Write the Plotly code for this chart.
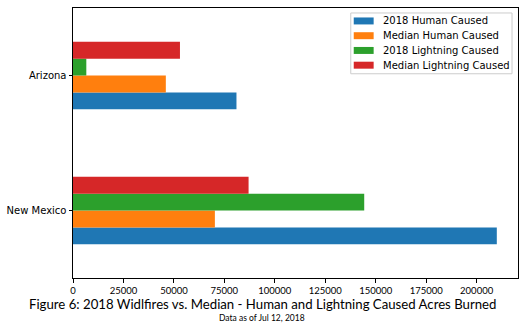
import plotly.graph_objects as go

states = ["New Mexico", "Arizona"]
series_names = ["2018 Human Caused", "Median Human Caused", "2018 Lightning Caused", "Median Lightning Caused"]
human_2018 = [210000, 81000]
median_human = [70300, 46000]
lightning_2018 = [144300, 6600]
median_lightning = [87000, 53000]
colors = ["#1f77b4", "#ff7f0e", "#2ca02c", "#d62728"]

fig = go.Figure()
for name, vals, c in zip(series_names, [human_2018, median_human, lightning_2018, median_lightning], colors):
    fig.add_trace(go.Bar(y=states, x=vals, name=name, orientation="h", marker=dict(color=c, line=dict(width=0))))

W, H = 526, 324
ML, MR, MT, MB = 72, 7, 7, 46
pw, ph = W - ML - MR, H - MT - MB

def px(x):
    return (x - ML) / pw

def py(y):
    return 1 - (y - MT) / ph

fig.update_layout(
    width=W, height=H,
    margin=dict(l=ML, r=MR, t=MT, b=MB),
    paper_bgcolor="white", plot_bgcolor="white",
    barmode="group", bargap=0.5, bargroupgap=0,
    font=dict(family="DejaVu Sans", size=10, color="black"),
    showlegend=False,
    xaxis=dict(range=[0, 220500], dtick=25000, tick0=0, tickformat="d",
               showline=True, linecolor="black", linewidth=1, mirror=True,
               ticks="outside", ticklen=3.5, tickcolor="black", showgrid=False, zeroline=False,
               tickfont=dict(family="Lato", size=9.5), ticklabelstandoff=0),
    yaxis=dict(type="category", range=[-0.5, 1.5],
               showline=True, linecolor="black", linewidth=1, mirror=True,
               ticks="outside", ticklen=3.5, tickcolor="black", showgrid=False),
)

# custom legend (matplotlib style)
fig.add_shape(type="rect", xref="paper", yref="paper",
              x0=px(351), x1=px(513), y0=py(73), y1=py(12),
              line=dict(color="#cccccc", width=1), fillcolor="rgba(255,255,255,0.8)", layer="above")
for i, (name, c) in enumerate(zip(series_names, colors)):
    yc = 20 + i * 14.8
    fig.add_shape(type="rect", xref="paper", yref="paper",
                  x0=px(354), x1=px(374), y0=py(yc + 3.5), y1=py(yc - 3.5),
                  line=dict(width=0), fillcolor=c, layer="above")
    fig.add_annotation(text=name, xref="paper", yref="paper", x=px(382), y=py(yc),
                       xanchor="left", yanchor="middle", showarrow=False, borderpad=0,
                       font=dict(family="DejaVu Sans", size=10, color="black"))

fig.add_annotation(text="Figure 6: 2018 Widlfires vs. Median - Human and Lightning Caused Acres Burned",
                   xref="paper", yref="paper", x=px(262), y=py(304), xanchor="center", yanchor="middle",
                   showarrow=False, borderpad=0, font=dict(family="Lato", size=13.2, color="black"))
fig.add_annotation(text="Data as of Jul 12, 2018",
                   xref="paper", yref="paper", x=px(262), y=py(318), xanchor="center", yanchor="middle",
                   showarrow=False, borderpad=0, font=dict(family="Lato", size=8.5, color="black"))
fig.write_html("out.html")
